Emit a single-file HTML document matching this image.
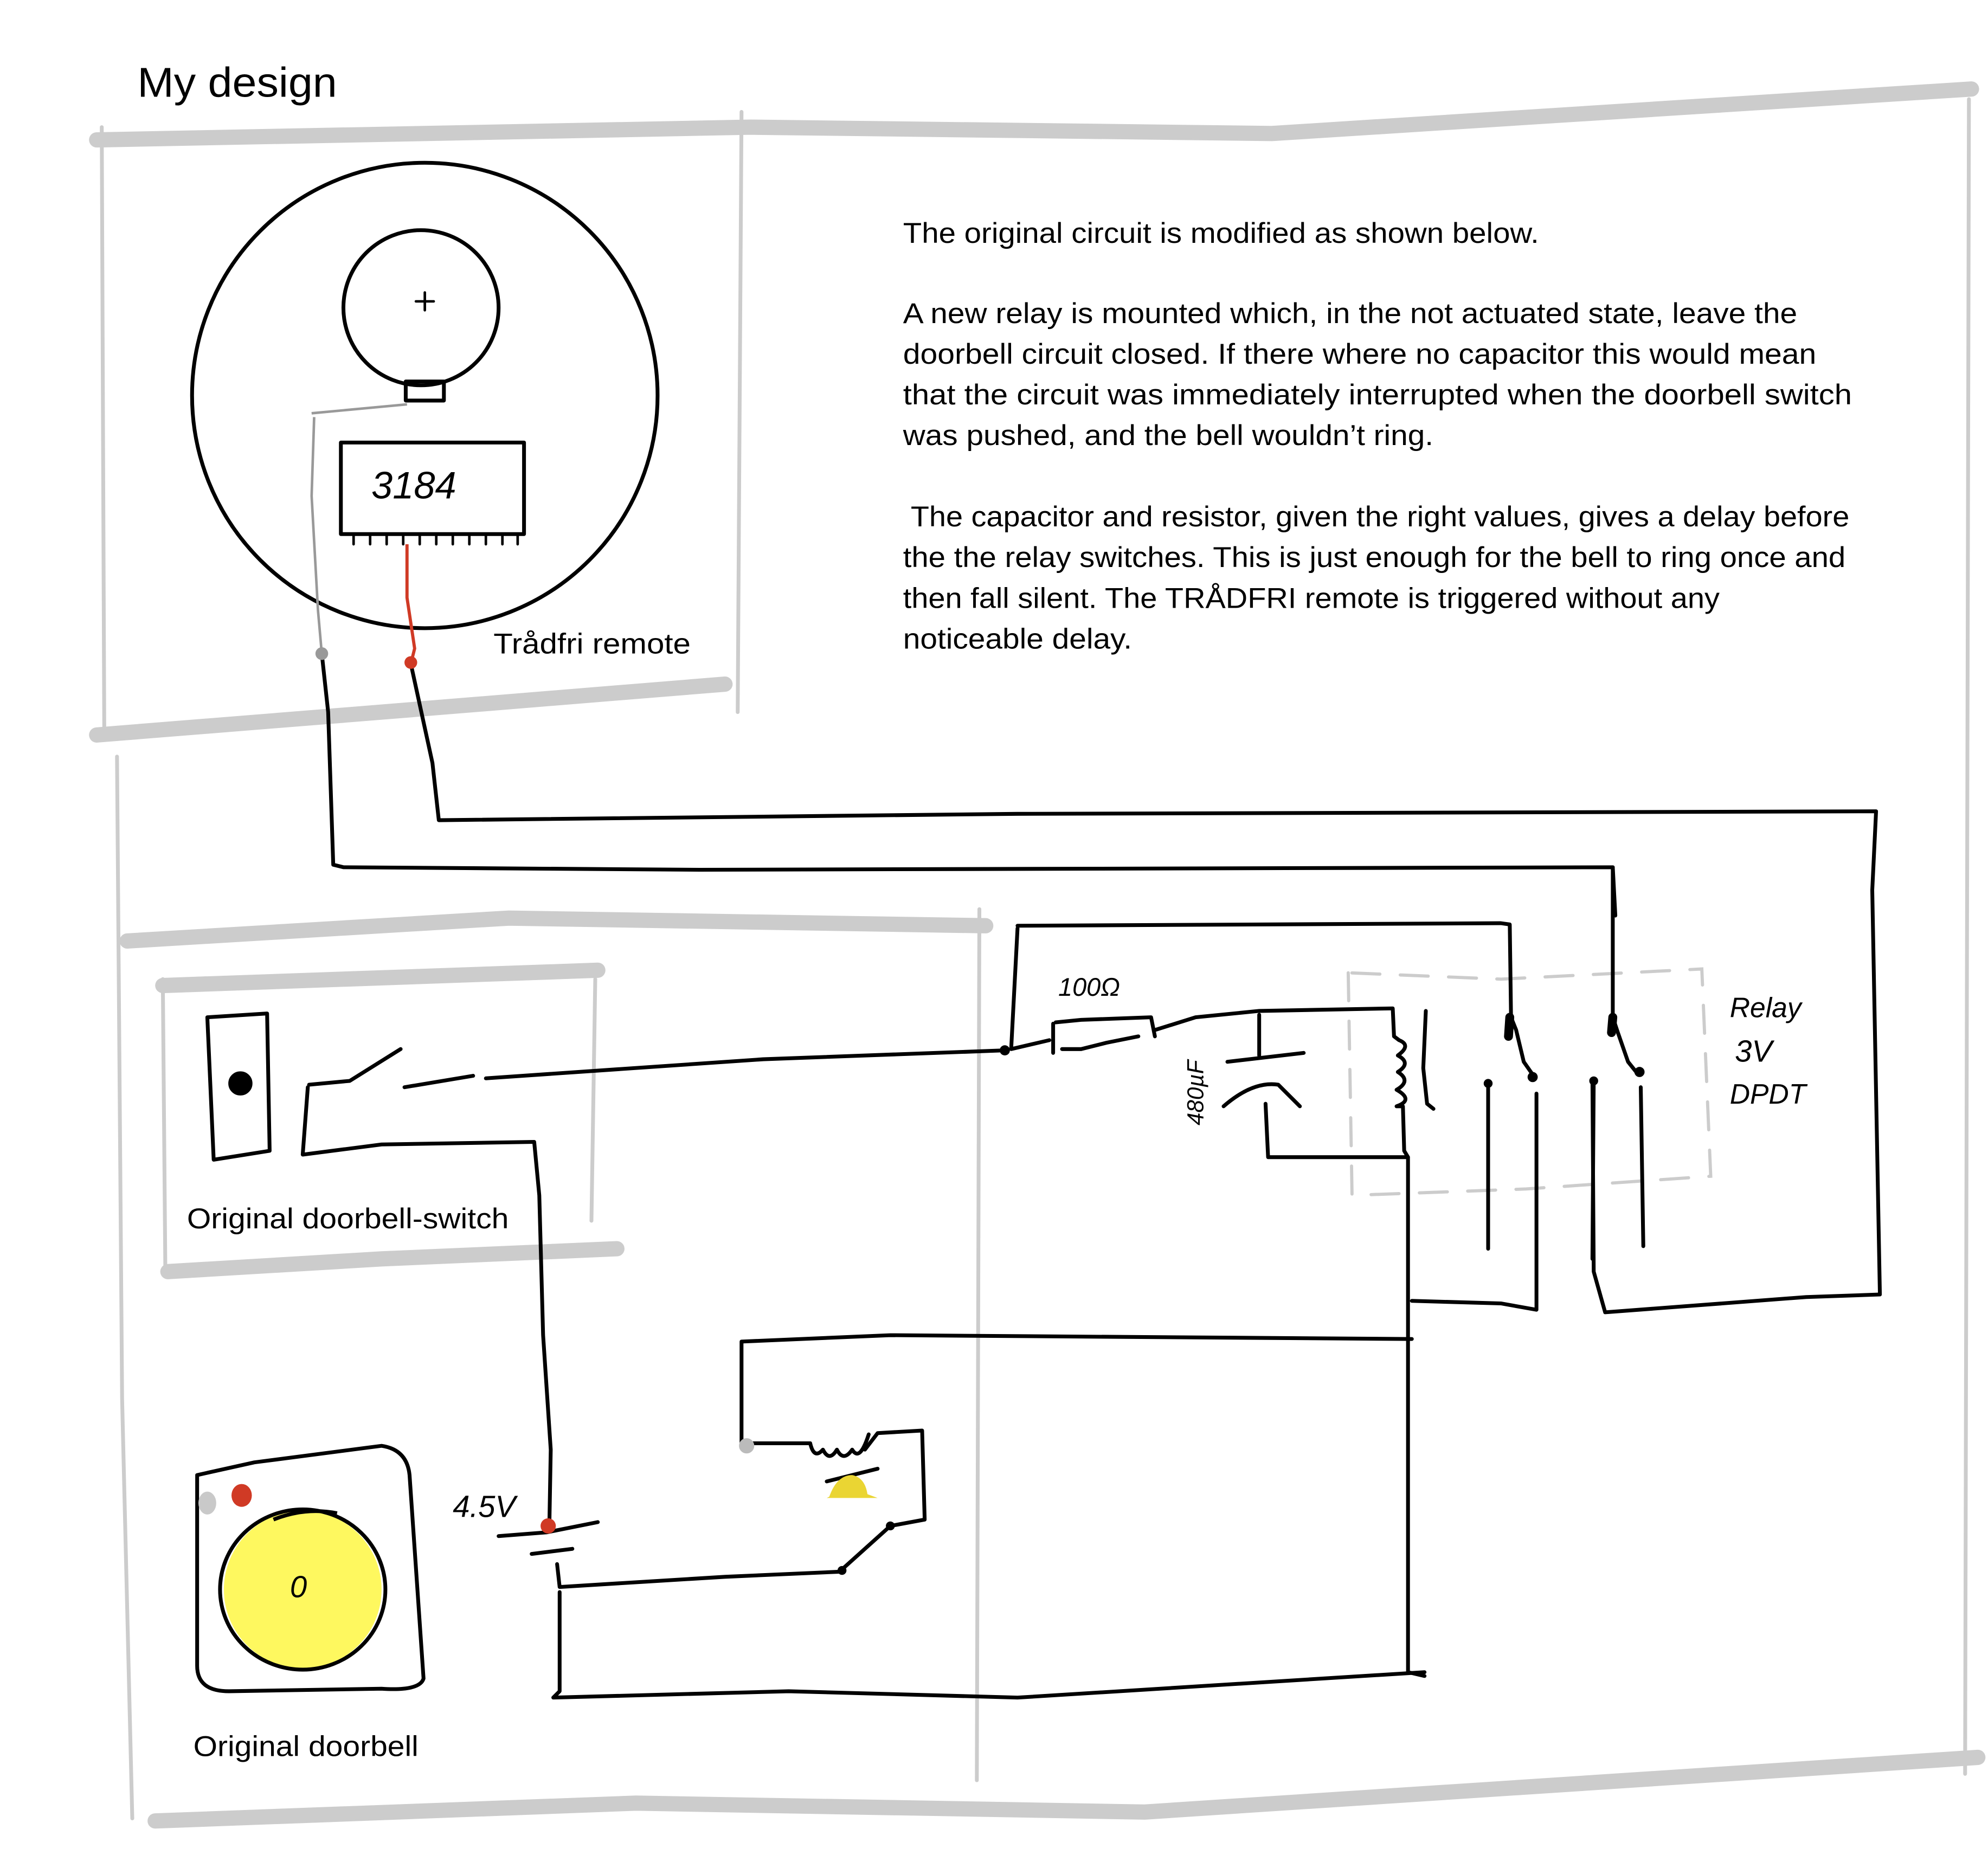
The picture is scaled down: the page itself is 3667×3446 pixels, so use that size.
<!DOCTYPE html>
<html><head><meta charset="utf-8"><style>
html,body{margin:0;padding:0;background:#fff;}
svg{display:block;}
text{font-family:"Liberation Sans",sans-serif;}
</style></head><body>
<svg width="3667" height="3446" viewBox="0 0 1563 1469" preserveAspectRatio="none" xmlns="http://www.w3.org/2000/svg">
<rect width="1563" height="1469" fill="#fff"/>
<g fill="none" stroke="#cccccc" stroke-linecap="round">
 <g stroke-width="12">
  <path d="M76 110 L590 100 L1000 105 L1550 70"/>
  <path d="M76 578 L300 560 L570 538"/>
  <path d="M100 740 L400 722 L775 728"/>
  <path d="M128 775 L470 763"/>
  <path d="M132 1000 L300 990 L485 982"/>
  <path d="M122 1432 L500 1418 L900 1425 L1555 1382"/>
 </g>
 <g stroke-width="3">
  <path d="M80 100 L82 580"/>
  <path d="M583 88 L580 560"/>
  <path d="M1548 78 L1545 1395"/>
  <path d="M92 595 L96 1100 L104 1430"/>
  <path d="M770 715 L768 1400"/>
  <path d="M128 770 L130 1000"/>
  <path d="M468 770 L465 960"/>
 </g>
 <path d="M1060 765 L1063 940 L1200 935 L1345 925 L1338 762 L1180 770 L1060 765" stroke-width="2.5" stroke-dasharray="22 16"/>
</g>
<text x="108" y="76" font-size="33" fill="#000" textLength="157" lengthAdjust="spacingAndGlyphs">My design</text>
<g font-size="22.5" fill="#000">
 <text x="710" y="191" textLength="500" lengthAdjust="spacingAndGlyphs">The original circuit is modified as shown below.</text>
 <text x="710" y="254" textLength="703" lengthAdjust="spacingAndGlyphs">A new relay is mounted which, in the not actuated state, leave the</text>
 <text x="710" y="286" textLength="718" lengthAdjust="spacingAndGlyphs">doorbell circuit closed. If there where no capacitor this would mean</text>
 <text x="710" y="318" textLength="746" lengthAdjust="spacingAndGlyphs">that the circuit was immediately interrupted when the doorbell switch</text>
 <text x="710" y="350" textLength="417" lengthAdjust="spacingAndGlyphs">was pushed, and the bell wouldn’t ring.</text>
 <text x="716" y="414" textLength="738" lengthAdjust="spacingAndGlyphs">The capacitor and resistor, given the right values, gives a delay before</text>
 <text x="710" y="446" textLength="741" lengthAdjust="spacingAndGlyphs">the the relay switches. This is just enough for the bell to ring once and</text>
 <text x="710" y="478" textLength="642" lengthAdjust="spacingAndGlyphs">then fall silent. The TRÅDFRI remote is triggered without any</text>
 <text x="710" y="510" textLength="180" lengthAdjust="spacingAndGlyphs">noticeable delay.</text>
 <text x="388" y="514" textLength="155" lengthAdjust="spacingAndGlyphs">Trådfri remote</text>
 <text x="147" y="966" textLength="253" lengthAdjust="spacingAndGlyphs">Original doorbell-switch</text>
 <text x="152" y="1381" textLength="177" lengthAdjust="spacingAndGlyphs">Original doorbell</text>
</g>
<g fill="none" stroke="#000" stroke-width="3" stroke-linecap="round" stroke-linejoin="round">
 <circle cx="334" cy="311" r="183"/>
 <circle cx="331" cy="242" r="61"/>
 <rect x="319" y="300" width="30" height="15"/>
 <path d="M327 237 L341 237 M334 230 L334 244" stroke-width="2"/>
 <rect x="268" y="348" width="144" height="72"/>
 <path d="M278 420 v8 M291 420 v8 M304 420 v8 M317 420 v8 M330 420 v8 M343 420 v8 M356 420 v8 M369 420 v8 M382 420 v8 M395 420 v8 M407 420 v8" stroke-width="2"/>
 <path d="M253 514 L258 560 L262 680 L270 682 L550 684 L1268 682 L1270 720"/>
 <path d="M323 522 L340 600 L345 645 L800 640 L1475 638 L1472 700 L1478 1018 L1420 1020 L1262 1032 L1253 1000 L1252 850"/>
 <path d="M1268 682 L1268 800 L1272 812 L1280 835 L1288 845"/>
 <path d="M800 728 L1180 726 L1187 727 L1188 800 L1192 810 L1198 835 L1205 845"/>
 <path d="M1170 850 L1170 982 M1253 850 L1252 990"/>
 <path d="M1208 860 L1208 1030 L1180 1025 L1110 1023"/>
 <path d="M1290 855 L1292 980"/>
 <path d="M800 730 L795 825 L825 818"/>
 <path d="M828 805 L828 828 M835 825 L850 825 L870 820 L895 815 M830 804 L850 802 L905 800 L908 815"/>
 <path d="M908 810 L940 800 L990 795 L1095 793 L1096 815 L1100 818 Q1110 822 1099 830 Q1110 836 1099 843 Q1110 850 1098 857 Q1112 865 1098 870 L1103 870 L1104 905 L1107 910 L1107 1315 L1120 1318"/>
 <path d="M990 798 L990 830 M965 835 L1025 828 M962 870 Q985 850 1005 853 L1022 870 M995 868 L997 910 L1107 910"/>
 <path d="M1121 795 L1119 840 L1122 868 L1127 872"/>
 <path d="M1187 800 L1186 815 M1268 800 L1267 812" stroke-width="7"/>
 <path d="M163 800 L210 797 L212 905 L168 912 L163 800"/>
 <circle cx="189" cy="852" r="8" fill="#000"/>
 <path d="M242 855 L238 908 L300 900 L420 898 L424 940 L427 1050 L433 1140 L432 1195"/>
 <path d="M243 853 L275 850 L315 825 M318 855 L372 846 M382 848 L600 833 L790 826"/>
 <path d="M392 1208 L430 1205 L470 1197 M418 1222 L450 1218 M438 1230 L440 1248 L570 1240 L660 1236 L700 1200 L727 1195 L725 1125 L690 1127 L680 1140 M440 1252 L440 1330 L435 1335 L620 1330 L800 1335 L1120 1315"/>
 <path d="M583 1138 L583 1055 L700 1050 L1110 1053"/>
 <path d="M590 1135 L637 1135 Q640 1148 647 1140 Q652 1150 658 1140 Q663 1150 670 1140 Q676 1150 683 1128"/>
 <path d="M650 1165 L690 1155"/>
 <path d="M155 1160 L200 1150 L300 1137 Q320 1140 322 1160 L333 1320 Q330 1330 300 1328 L180 1330 Q155 1330 155 1310 Z"/>
</g>
<ellipse cx="238" cy="1250" rx="62" ry="62" fill="#fef85f"/>
<ellipse cx="238" cy="1250" rx="65" ry="63" fill="none" stroke="#000" stroke-width="3"/>
<path d="M215 1195 Q240 1185 265 1190" fill="none" stroke="#000" stroke-width="3"/>
<text x="228" y="1256" font-size="24" font-style="italic" fill="#000">0</text>
<ellipse cx="163" cy="1182" rx="7" ry="9" fill="#c9c9c9"/>
<ellipse cx="190" cy="1176" rx="8" ry="9" fill="#d03a25"/>
<path d="M652 1177 Q658 1160 670 1160 Q680 1162 682 1175 L690 1178 L650 1178 Z" fill="#ead533"/>
<path d="M247 328 L245 390 L250 480 L253 514" fill="none" stroke="#999" stroke-width="2"/>
<path d="M245 325 L320 318" fill="none" stroke="#999" stroke-width="2"/>
<path d="M320 428 L320 470 L326 510 L323 522" fill="none" stroke="#d03a25" stroke-width="2.5"/>
<circle cx="253" cy="514" r="5" fill="#999"/>
<circle cx="323" cy="521" r="5" fill="#d03a25"/>
<circle cx="431" cy="1200" r="6" fill="#d03a25"/>
<circle cx="587" cy="1137" r="6" fill="#bbb"/>
<circle cx="790" cy="826" r="4" fill="#000"/>
<circle cx="1205" cy="847" r="4" fill="#000"/>
<circle cx="1289" cy="843" r="4" fill="#000"/>
<circle cx="1170" cy="852" r="3.5" fill="#000"/>
<circle cx="1253" cy="850" r="3.5" fill="#000"/>
<circle cx="662" cy="1235" r="3.5" fill="#000"/>
<circle cx="700" cy="1200" r="3.5" fill="#000"/>
<g font-size="30" font-style="italic" fill="#000">
 <text x="292" y="392" font-size="30">3184</text>
 <text x="832" y="783" font-size="20">100Ω</text>
 <text x="356" y="1193" font-size="24">4.5V</text>
 <text x="1360" y="800" font-size="22">Relay</text>
 <text x="1364" y="835" font-size="24">3V</text>
 <text x="1360" y="868" font-size="22">DPDT</text>
 <text x="0" y="0" font-size="18" transform="translate(946 885) rotate(-90)">480µF</text>
</g>
</svg>
</body></html>
